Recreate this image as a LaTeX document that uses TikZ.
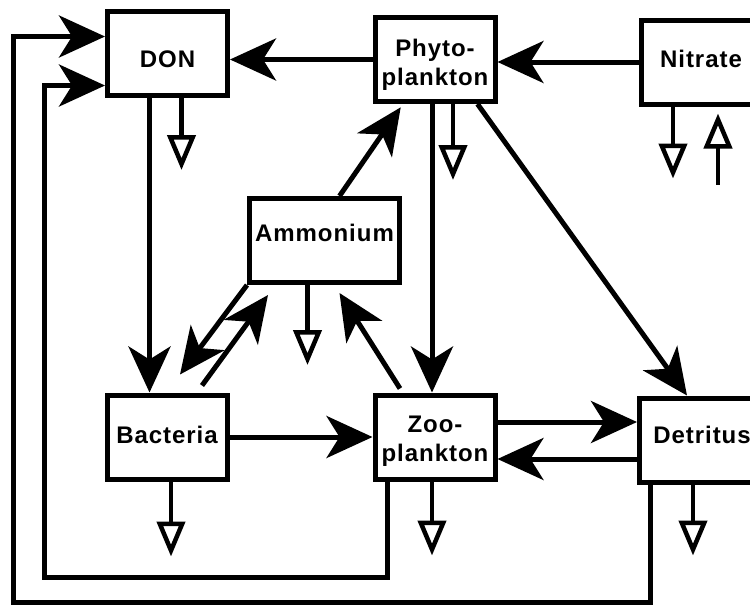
\documentclass[tikz,border=0pt]{standalone}
\usepackage{fontspec}
\newfontfamily\labelfont{Liberation Sans}[LetterSpace=4]
\usetikzlibrary{arrows.meta, positioning}

\begin{document}
\begin{tikzpicture}[
  x=1pt, y=-1pt,
  box/.style={rectangle, draw=black, line width=5pt, minimum width=120pt,
             minimum height=84pt, inner sep=0pt, align=center,
             font=\labelfont\bfseries\fontsize{24}{29}\selectfont},
  flow/.style={line width=5pt, -{Stealth[length=46pt, width=42pt, inset=13pt]}},
  loss/.style={line width=4.5pt, -{Triangle[open, fill=white, length=35pt, width=28pt]}}
]
\useasboundingbox (0,0) rectangle (750,606);
\clip (0,0) rectangle (750,606);

% compartments
\node[box, text height=29pt] (don) at (167.5,53.5) {DON};
\node[box, text height=57.5pt] (phyto) at (435,59.5) {Phyto-\\plankton};
\node[box, text depth=7pt] (nitrate) at (701,62) {Nitrate};
\node[box, minimum width=150pt, text depth=15pt] (ammonium) at (324.5,240.5) {Ammonium};
\node[box, text depth=4pt] (bacteria) at (167,437) {Bacteria};
\node[box, text height=54.5pt] (zoo) at (435,437) {Zoo-\\plankton};
\node[box, minimum width=125pt, text depth=10pt] (detritus) at (702,440) {Detritus};

% uptake along the top row
\draw[flow] (phyto.west) -- (phyto.west -| don.east);
\draw[flow] (nitrate.west) -- (nitrate.west -| phyto.east);

% return loops into DON
\coordinate (outer) at (13,602);
\coordinate (inner) at (44,577);
\draw[flow] ([xshift=13pt]detritus.south west) |- (outer) |- ([yshift=17pt]don.west);
\draw[flow] ([xshift=15pt]zoo.south west) |- (inner) |- ([yshift=-32pt]don.west);

\draw[flow] ([xshift=-18pt]don.south) -- ([xshift=-18pt]don.south |- bacteria.north);

% ammonium exchanges
\draw[flow, shorten >=4pt] ([xshift=15pt]ammonium.north) -- ([xshift=-32pt]phyto.south);
\draw[flow] (ammonium.south west) -- ([xshift=13pt, yshift=18pt]bacteria.north);
\draw[flow] ([xshift=35pt, yshift=7pt]bacteria.north) -- ([xshift=21pt, yshift=-10pt]ammonium.south west);
\draw[flow] ([xshift=-35pt, yshift=4pt]zoo.north) -- ([xshift=15pt, yshift=-8pt]ammonium.south);

% grazing and detritus
\draw[flow] ([xshift=-3pt]phyto.south) -- ([xshift=-3pt]zoo.north);
\draw[flow] ([xshift=-20pt]phyto.south east) -- ([xshift=-15pt]detritus.north);
\draw[flow] (bacteria.east) -- (bacteria.east -| zoo.west);
\draw[flow] ([yshift=15pt]zoo.east) -- ([yshift=15pt]zoo.east -| detritus.west);
\draw[flow] ([yshift=-19pt]detritus.west) -- ([yshift=-19pt]detritus.west -| zoo.east);

% losses out of the system
\coordinate[below=72pt of don.south, xshift=14pt] (don-out);
\coordinate[below=76pt of phyto.south, xshift=18pt] (phyto-out);
\coordinate[below=72pt of nitrate.south, xshift=-28pt] (nitrate-out);
\coordinate[below=78pt of nitrate.south, xshift=17pt] (nitrate-in);
\coordinate[below=80pt of ammonium.south, xshift=-17pt] (ammonium-out);
\coordinate[below=75pt of bacteria.south, xshift=4pt] (bacteria-out);
\coordinate[below=74pt of zoo.south, xshift=-3pt] (zoo-out);
\coordinate[below=71pt of detritus.south, xshift=-9pt] (detritus-out);

\draw[loss] (don-out |- don.south) -- (don-out);
\draw[loss] (phyto-out |- phyto.south) -- (phyto-out);
\draw[loss] (nitrate-out |- nitrate.south) -- (nitrate-out);
\draw[loss, shorten >=7pt] (nitrate-in) -- (nitrate-in |- nitrate.south);
\draw[loss] (ammonium-out |- ammonium.south) -- (ammonium-out);
\draw[loss] (bacteria-out |- bacteria.south) -- (bacteria-out);
\draw[loss] (zoo-out |- zoo.south) -- (zoo-out);
\draw[loss] (detritus-out |- detritus.south) -- (detritus-out);

\end{tikzpicture}
\end{document}
